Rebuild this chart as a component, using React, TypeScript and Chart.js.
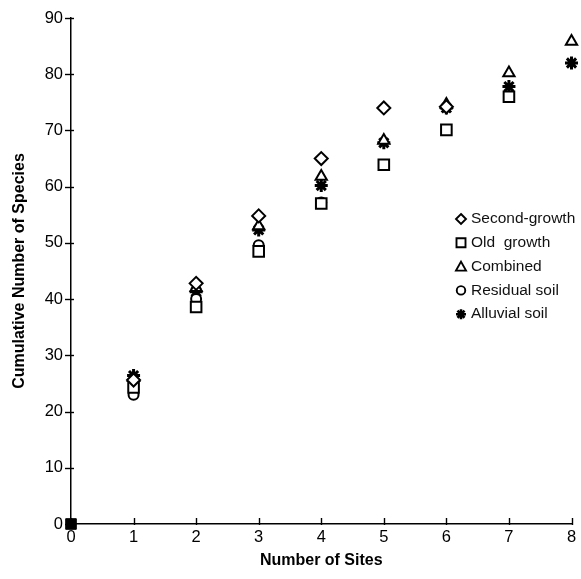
import React, { useEffect, useRef } from "react";
import { Chart, registerables } from "chart.js";

Chart.register(...registerables);

// ---- data ----
const secondGrowthSites = [1, 2, 3, 4, 5, 6];
const secondGrowth = [25.6, 42.8, 54.8, 65.0, 74.0, 74.2];

const oldGrowthSites = [1, 2, 3, 4, 5, 6, 7];
const oldGrowth = [24.3, 38.6, 48.5, 57.0, 63.9, 70.1, 76.0];

const combinedSites = [1, 2, 3, 4, 5, 6, 7, 8];
const combined = [26.0, 42.0, 53.0, 61.8, 68.2, 74.6, 80.2, 85.8];

const residualSites = [1, 2, 3, 4];
const residualSoil = [23.0, 40.0, 49.6, 57.2];

const alluvialSites = [1, 2, 3, 4, 5, 6, 7, 8];
const alluvialSoil = [26.4, 41.3, 52.3, 60.2, 67.8, 74.0, 77.8, 82.0];

const originSites = [0];
const originValues = [0];

const xTicks = [0, 1, 2, 3, 4, 5, 6, 7, 8];
const yTicks = [0, 10, 20, 30, 40, 50, 60, 70, 80, 90];

const legendLabels = ["Second-growth", "Old  growth", "Combined", "Residual soil", "Alluvial soil"];
const legendStyles = ["rectRot", "rect", "triangle", "circle", "star"];

const FONT = "'Liberation Sans', Arial, Helvetica, sans-serif";

function toPoints(xs: number[], ys: number[]) {
  return xs.map((x, i) => ({ x, y: ys[i] }));
}

function drawMarker(ctx: CanvasRenderingContext2D, style: string, x: number, y: number, r: number) {
  ctx.beginPath();
  if (style === "rectRot") {
    ctx.moveTo(x, y - r);
    ctx.lineTo(x + r, y);
    ctx.lineTo(x, y + r);
    ctx.lineTo(x - r, y);
    ctx.closePath();
    ctx.stroke();
  } else if (style === "rect") {
    ctx.rect(x - r, y - r, 2 * r, 2 * r);
    ctx.stroke();
  } else if (style === "triangle") {
    ctx.moveTo(x, y - r);
    ctx.lineTo(x + r, y + r * 0.8);
    ctx.lineTo(x - r, y + r * 0.8);
    ctx.closePath();
    ctx.stroke();
  } else if (style === "circle") {
    ctx.arc(x, y, r * 0.85, 0, Math.PI * 2);
    ctx.stroke();
  } else if (style === "star") {
    for (let k = 0; k < 4; k++) {
      const a = (k * Math.PI) / 4;
      ctx.moveTo(x + Math.cos(a) * r, y + Math.sin(a) * r);
      ctx.lineTo(x - Math.cos(a) * r, y - Math.sin(a) * r);
    }
    ctx.lineWidth = 2.6;
    ctx.stroke();
  }
}

const axisPlugin = {
  id: "customAxisAndLegend",
  afterDraw(chart: any) {
    const ctx = chart.ctx as CanvasRenderingContext2D;
    const xs = chart.scales.x;
    const ys = chart.scales.y;
    const area = chart.chartArea;
    ctx.save();
    ctx.strokeStyle = "#000";
    ctx.lineWidth = 1.4;
    // y tick marks crossing the axis
    yTicks.forEach((v) => {
      const py = Math.round(ys.getPixelForValue(v)) + 0.5;
      ctx.beginPath();
      ctx.moveTo(area.left - 6, py);
      ctx.lineTo(area.left + 3, py);
      ctx.stroke();
    });
    // x tick marks pointing inward
    xTicks.forEach((v) => {
      const px = Math.round(xs.getPixelForValue(v)) + 0.5;
      ctx.beginPath();
      ctx.moveTo(px, area.bottom + 1);
      ctx.lineTo(px, area.bottom - 6);
      ctx.stroke();
    });
    // legend inside the plot
    const lx = 461;
    const ly0 = 219;
    const step = 23.8;
    ctx.font = `15.5px ${FONT}`;
    ctx.fillStyle = "#111";
    ctx.textBaseline = "middle";
    ctx.textAlign = "left";
    legendLabels.forEach((lab, i) => {
      const y = ly0 + i * step;
      ctx.lineWidth = 1.9;
      ctx.strokeStyle = "#000";
      drawMarker(ctx, legendStyles[i], lx, y, legendStyles[i] === "rect" ? 4.5 : 5);
      ctx.fillText(lab, lx + 10, y);
    });
    ctx.restore();
  },
};

export default function App() {
  const canvasRef = useRef<HTMLCanvasElement | null>(null);

  useEffect(() => {
    if (!canvasRef.current) return;
    const common = {
      borderColor: "#000",
      backgroundColor: "#fff",
      borderWidth: 2,
      showLine: false,
      clip: false,
    };
    const chart = new Chart(canvasRef.current, {
      type: "scatter",
      data: {
        datasets: [
          { ...common, label: "Second-growth", data: toPoints(secondGrowthSites, secondGrowth), pointStyle: "rectRot", pointRadius: 6.5 },
          { ...common, label: "Old growth", data: toPoints(oldGrowthSites, oldGrowth), pointStyle: "rect", pointRadius: 7.5 },
          { ...common, label: "Combined", data: toPoints(combinedSites, combined), pointStyle: "triangle", pointRadius: 6.5 },
          { ...common, label: "Residual soil", data: toPoints(residualSites, residualSoil), pointStyle: "circle", pointRadius: 5 },
          { ...common, label: "Alluvial soil", data: toPoints(alluvialSites, alluvialSoil), pointStyle: "star", pointRadius: 6.5, borderWidth: 3 },
          { label: "origin", data: toPoints(originSites, originValues), pointStyle: "rect", pointRadius: 7.5, backgroundColor: "#000", borderColor: "#000", borderWidth: 1, showLine: false, clip: false },
        ],
      },
      options: {
        responsive: false,
        animation: false,
        events: [],
        layout: { padding: { top: 18, right: 7, left: 0, bottom: 0 } },
        plugins: {
          legend: { display: false },
          tooltip: { enabled: false },
        },
        scales: {
          x: {
            type: "linear",
            min: 0,
            max: 8,
            grid: { display: false, drawTicks: false },
            border: { display: true, color: "#000", width: 1.5 },
            afterBuildTicks: (scale: any) => {
              scale.ticks = xTicks.map((v) => ({ value: v }));
            },
            afterFit: (scale: any) => {
              scale.height = 55;
            },
            ticks: {
              color: "#000",
              font: { family: FONT, size: 16.5 },
              padding: 4,
              maxRotation: 0,
              autoSkip: false,
            },
            title: {
              display: true,
              text: "Number of Sites",
              color: "#000",
              font: { family: FONT, size: 16, weight: "bold" },
              padding: { top: 9, bottom: 9 },
            },
          },
          y: {
            type: "linear",
            min: 0,
            max: 90,
            grid: { display: false, drawTicks: false },
            border: { display: true, color: "#000", width: 1.5 },
            afterBuildTicks: (scale: any) => {
              scale.ticks = yTicks.map((v) => ({ value: v }));
            },
            afterFit: (scale: any) => {
              scale.width = 71;
            },
            ticks: {
              color: "#000",
              font: { family: FONT, size: 16.5 },
              padding: 8,
              autoSkip: false,
            },
            title: {
              display: true,
              text: "Cumulative Number of Species",
              color: "#000",
              font: { family: FONT, size: 16, weight: "bold" },
              padding: { top: 10, bottom: 0 },
            },
          },
        },
      },
      plugins: [axisPlugin],
    } as any);
    return () => chart.destroy();
  }, []);

  return (
    <div style={{ position: "fixed", left: 0, top: 0, width: 581, height: 579, background: "#fff" }}>
      <canvas ref={canvasRef} width={581} height={579} />
    </div>
  );
}
